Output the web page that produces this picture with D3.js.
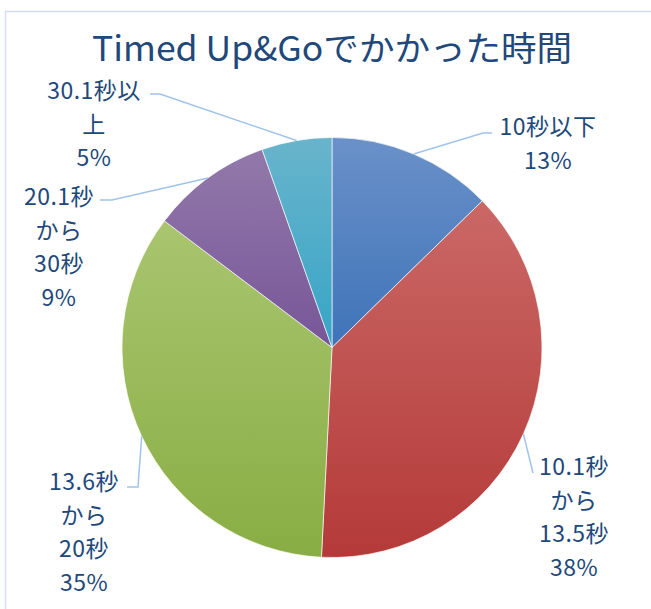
<!DOCTYPE html>
<html><head><meta charset="utf-8">
<script src="https://cdn.jsdelivr.net/npm/d3@7/dist/d3.min.js"></script>
<style>html,body{margin:0;padding:0;background:#fff;}svg{display:block;}</style>
</head><body>
<script>
const title = "Timed Up&Goでかかった時間";
const categories = ["10秒以下", "10.1秒から13.5秒", "13.6秒から20秒", "20.1秒から30秒", "30.1秒以上"];
const labelLines = [["10秒以下"], ["10.1秒", "から", "13.5秒"], ["13.6秒", "から", "20秒"], ["20.1秒", "から", "30秒"], ["30.1秒以", "上"]];
const values = [12.7, 38.1, 34.5, 9.3, 5.4];
const percentLabels = ["13%", "38%", "35%", "9%", "5%"];

const W = 651, H = 609;
const cx = 332, cy = 347.5, R = 210;
const gradTop = ["#6a91c9", "#ca6866", "#a9c56f", "#9279aa", "#69b4cc"];
const gradBot = ["#3f73b8", "#b43a38", "#89ad44", "#775698", "#36a5c6"];
// label layout: [centerX, firstLineCenterY, elbowX, elbowY, endX]
const layout = [
  {x: 548, y: 125, ex: 483, ey: 133, tx: 492},
  {x: 574, y: 465, ex: 533, ey: 473, tx: 533},
  {x: 84,  y: 480, ex: 138, ey: 487, tx: 127},
  {x: 59,  y: 195, ex: 112, ey: 200, tx: 100},
  {x: 94,  y: 89,  ex: 160, ey: 94,  tx: 150}
];
const lineH = 33.5;
const textColor = "#21487a";
const font = "'Noto Sans CJK JP', 'Noto Sans', sans-serif";

const svg = d3.select("body").append("svg").attr("width", W).attr("height", H);
const defs = svg.append("defs");
values.forEach((v, i) => {
  const g = defs.append("linearGradient").attr("id", "g" + i)
    .attr("x1", 0).attr("y1", 0).attr("x2", 0).attr("y2", 1);
  g.append("stop").attr("offset", "0%").attr("stop-color", gradTop[i]);
  g.append("stop").attr("offset", "100%").attr("stop-color", gradBot[i]);
});

svg.append("rect").attr("x", 5.5).attr("y", 11.5).attr("width", W + 20).attr("height", H + 20)
  .attr("fill", "none").attr("stroke", "#d3e0f1").attr("stroke-width", 1.5);

svg.append("text").attr("x", 332).attr("y", 61).attr("text-anchor", "middle")
  .attr("font-family", font).attr("font-size", 34).attr("fill", "#21487a")
  .attr("textLength", 480).attr("lengthAdjust", "spacingAndGlyphs")
  .text(title);

const pie = d3.pie().sort(null).value(d => d).startAngle(0).endAngle(2 * Math.PI);
const arcs = pie(values);
const arc = d3.arc().innerRadius(0).outerRadius(R);
const edgeArc = d3.arc().innerRadius(R).outerRadius(R);

const g = svg.append("g").attr("transform", `translate(${cx},${cy})`);
g.selectAll("path.slice").data(arcs).enter().append("path").attr("class", "slice")
  .attr("d", arc).attr("fill", (d, i) => `url(#g${i})`)
  .attr("stroke", "#ffffff").attr("stroke-width", 0.8).attr("stroke-opacity", 0.8);

// leader lines
svg.selectAll("polyline.leader").data(arcs).enter().append("polyline").attr("class", "leader")
  .attr("points", (d, i) => {
    const c = edgeArc.centroid(d);
    const L = layout[i];
    return [[cx + c[0], cy + c[1]], [L.ex, L.ey], [L.tx, L.ey]].map(p => p.join(",")).join(" ");
  })
  .attr("fill", "none").attr("stroke", "#9fc3ea").attr("stroke-width", 1.5);

// labels
arcs.forEach((d, i) => {
  const L = layout[i];
  const lines = labelLines[i].concat([percentLabels[i]]);
  const t = svg.append("text").attr("text-anchor", "middle").attr("font-family", font)
    .attr("font-size", 23).attr("fill", textColor).attr("letter-spacing", 0.5);
  lines.forEach((s, k) => {
    t.append("tspan").attr("x", L.x).attr("y", L.y + k * lineH).attr("dominant-baseline", "central").text(s);
  });
});
</script>
</body></html>
